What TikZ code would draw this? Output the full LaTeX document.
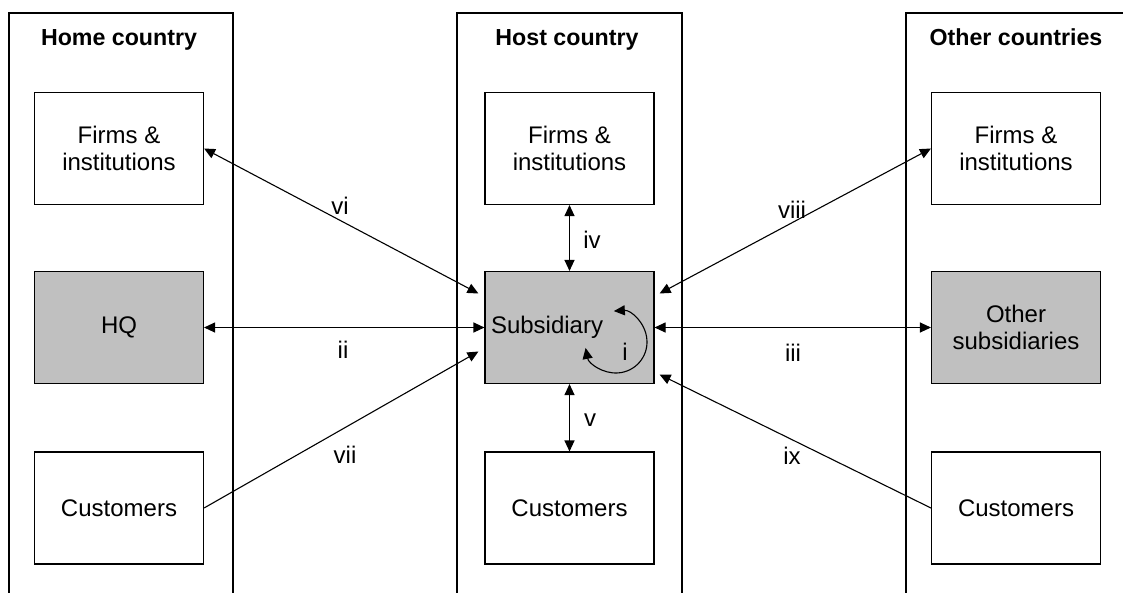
\documentclass[tikz,border=0pt]{standalone}
\usepackage{fontspec}
\setmainfont{Liberation Sans}
\usetikzlibrary{arrows.meta,calc}
\definecolor{boxgray}{RGB}{192,192,192}
\tikzset{
  unitbox/.style={draw=black, line width=1.1pt, minimum width=169pt, minimum height=112pt,
    inner sep=0pt, align=center, font=\fontsize{24}{27.6}\selectfont},
  graybox/.style={unitbox, fill=boxgray},
  colframe/.style={draw=black, line width=1.1pt},
  coltitle/.style={font=\fontsize{23.2}{26}\selectfont\bfseries, inner sep=0pt, anchor=base},
  link/.style={line width=1.1pt, {Triangle[length=11pt,width=10pt]}-{Triangle[length=11pt,width=10pt]}},
  onelink/.style={line width=1.1pt, -{Triangle[length=11pt,width=10pt]}},
  lbl/.style={font=\fontsize{24}{27.6}\selectfont, inner sep=0pt}
}
\begin{document}
\begin{tikzpicture}[x=1pt,y=-1pt]
  \useasboundingbox (0,0) rectangle (1123,592);
  \fill[white] (0,0) rectangle (1123,592);
  \clip (0,0) rectangle (1123,592);

  % country columns, open at the bottom
  \draw[colframe] (9,600) -- (9,13) -- (233,13) -- (233,600);
  \draw[colframe] (457,600) -- (457,13) -- (682,13) -- (682,600);
  \draw[colframe] (906,600) -- (906,13) -- (1135,13) -- (1135,600);

  \node[coltitle] (thome) at (119,45) {Home country};
  \node[coltitle] (thost) at (567,45) {Host country};
  \node[coltitle] (tother) at (1016,45) {Other countries};

  % home country
  \node[unitbox] (hf) at (119,148.5) {Firms \&\\institutions};
  \node[graybox] (hq) at (119,327.5) {HQ};
  \node[unitbox] (hc) at (119,508) {Customers};

  % host country
  \node[unitbox] (sf) at (569.5,148.5) {Firms \&\\institutions};
  \node[graybox, text width=157pt, align=left, inner xsep=6pt] (sub) at (569.5,327.5) {Subsidiary};
  \node[unitbox] (sc) at (569.5,508) {Customers};

  % other countries
  \node[unitbox] (of) at (1016,148.5) {Firms \&\\institutions};
  \node[graybox] (os) at (1016,327.5) {Other\\subsidiaries};
  \node[unitbox] (oc) at (1016,508) {Customers};

  % end points of the slanted links beside the subsidiary
  \coordinate (subvi)   at ($(sub.west)+(-6,-34)$);
  \coordinate (subvii)  at ($(sub.west)+(-6,24)$);
  \coordinate (subviii) at ($(sub.east)+(5,-34)$);
  \coordinate (subix)   at ($(sub.east)+(5,47)$);

  % links
  \draw[link] (hf.east) -- (subvi);
  \draw[link] (hq.east) -- (sub.west);
  \draw[onelink] (hc.east) -- (subvii);
  \draw[link] (sf.south) -- (sub.north);
  \draw[link] (sub.south) -- (sc.north);
  \draw[link] (subviii) -- (of.west);
  \draw[link] (sub.east) -- (os.west);
  \draw[onelink] (oc.west) -- (subix);

  % self loop of the subsidiary
  \coordinate (loopc) at (616,342);
  \draw[link] ($(loopc)+(-94:31)$) arc[start angle=-94, end angle=169, radius=31];

  % link labels
  \node[lbl] (lvi)   at (340,206) {vi};
  \node[lbl] (lii)   at (343,350) {ii};
  \node[lbl] (lvii)  at (345,455) {vii};
  \node[lbl] (liv)   at (592,240) {iv};
  \node[lbl] (lv)    at (590,420) {v};
  \node[lbl] (li)    at (625,352) {i};
  \node[lbl] (lviii) at (792,210) {viii};
  \node[lbl] (liii)  at (793,353) {iii};
  \node[lbl] (lix)   at (792,456) {ix};
\end{tikzpicture}
\end{document}
